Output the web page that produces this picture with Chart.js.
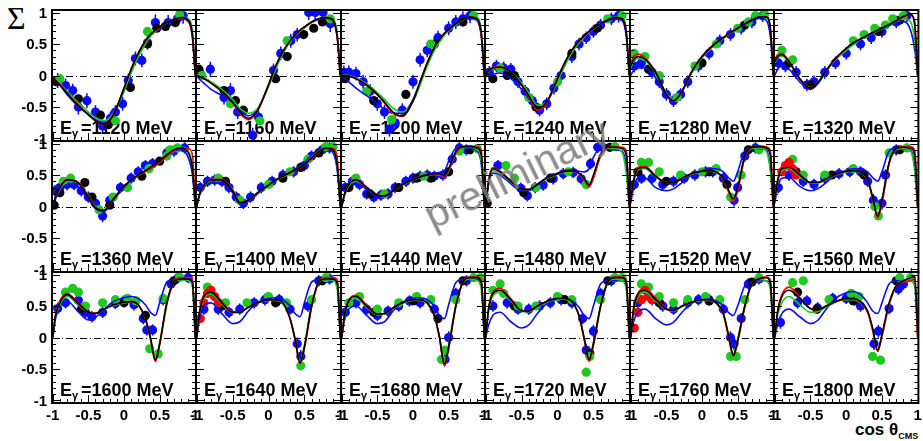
<!DOCTYPE html>
<html>
<head>
<meta charset="utf-8">
<script src="https://cdn.jsdelivr.net/npm/chart.js@4.4.1/dist/chart.umd.min.js"></script>
<style>
  body { margin: 0; background: #fff; width: 923px; height: 441px; overflow: hidden; position: relative; }
  canvas { position: absolute; }
  #sigma { position: absolute; left: 7px; top: 2px; font: 32px "Liberation Serif", serif; line-height: 1; }
  #xtitle { position: absolute; left: 855px; top: 421px; font: bold 17px "Liberation Sans", Arial, sans-serif; line-height: 1; white-space: nowrap; }
  #xtitle sub { font-size: 9px; vertical-align: -4px; }
  #prelim { position: absolute; left: 517px; top: 174px; transform: translate(-50%, -50%) rotate(-26deg);
            font: 41px "Liberation Sans", Arial, sans-serif; color: rgba(120,120,120,0.85); white-space: nowrap; z-index: 5; }
</style>
</head>
<body>
<div id="sigma">Σ</div>
<div id="xtitle">cos θ<sub>CMS</sub></div>
<div id="prelim">preliminary</div>
<script>
// photon energies, one panel each
const energies = [1120, 1160, 1200, 1240, 1280, 1320, 1360, 1400, 1440, 1480, 1520, 1560, 1600, 1640, 1680, 1720, 1760, 1800];

// cos theta grid where the model curves are read
const cosGrid = [-1, -0.96, -0.9, -0.8, -0.65, -0.5, -0.4, -0.28, -0.15, 0, 0.1, 0.2, 0.3, 0.37, 0.44, 0.5, 0.6, 0.7, 0.8, 0.9, 0.96, 1];

// model curves (one row per panel)
const modelBlack = [
  [-0.03,-0.08,-0.15,-0.28,-0.47,-0.62,-0.72,-0.78,-0.62,-0.2,0.1,0.35,0.55,0.65,0.72,0.77,0.84,0.89,0.92,0.88,0.65,0],
  [0,-0.02,-0.05,-0.12,-0.25,-0.42,-0.58,-0.68,-0.55,-0.15,0.15,0.38,0.55,0.64,0.72,0.77,0.85,0.9,0.92,0.88,0.6,0],
  [0,0,-0.01,-0.05,-0.15,-0.3,-0.42,-0.58,-0.64,-0.4,-0.1,0.2,0.45,0.57,0.67,0.73,0.82,0.89,0.93,0.9,0.65,0],
  [0,0.08,0.12,0.13,0.05,-0.15,-0.32,-0.52,-0.42,-0.05,0.2,0.4,0.55,0.63,0.7,0.75,0.82,0.88,0.92,0.9,0.65,0],
  [0.15,0.25,0.3,0.26,0.05,-0.3,-0.4,-0.25,0.05,0.3,0.42,0.52,0.6,0.66,0.71,0.75,0.82,0.88,0.93,0.93,0.72,0],
  [0.22,0.3,0.33,0.22,-0.05,-0.2,-0.12,0.08,0.27,0.43,0.52,0.58,0.64,0.68,0.72,0.75,0.81,0.87,0.94,0.97,0.78,0],
  [0,0.15,0.3,0.42,0.38,0.15,-0.02,-0.06,0.12,0.32,0.42,0.5,0.57,0.62,0.67,0.72,0.82,0.9,0.93,0.86,0.6,0],
  [0,0.2,0.33,0.42,0.42,0.25,0.06,0.1,0.22,0.34,0.42,0.48,0.54,0.58,0.62,0.67,0.77,0.87,0.93,0.9,0.62,0],
  [0,0.2,0.35,0.42,0.3,0.18,0.17,0.25,0.35,0.43,0.47,0.5,0.52,0.52,0.49,0.6,0.87,0.95,0.95,0.93,0.8,0],
  [0,0.4,0.6,0.55,0.4,0.28,0.27,0.35,0.45,0.52,0.56,0.57,0.53,0.45,0.34,0.5,0.83,0.94,0.94,0.92,0.8,0],
  [0.1,0.4,0.6,0.62,0.48,0.38,0.38,0.45,0.52,0.56,0.57,0.55,0.45,0.27,0.12,0.3,0.8,0.94,0.95,0.93,0.8,0],
  [0.1,0.4,0.6,0.62,0.5,0.38,0.38,0.44,0.51,0.56,0.57,0.55,0.43,0.15,-0.15,0.1,0.7,0.92,0.94,0.93,0.8,0],
  [0,0.35,0.55,0.68,0.55,0.4,0.38,0.45,0.52,0.56,0.57,0.52,0.3,0,-0.36,-0.1,0.55,0.88,0.93,0.93,0.88,0],
  [0,0.4,0.65,0.72,0.55,0.4,0.4,0.48,0.55,0.6,0.6,0.55,0.3,-0.02,-0.4,-0.15,0.5,0.88,0.93,0.93,0.85,0],
  [0,0.35,0.58,0.65,0.5,0.37,0.38,0.47,0.55,0.6,0.6,0.55,0.35,0.02,-0.42,-0.15,0.5,0.88,0.95,0.95,0.85,0],
  [0,0.45,0.7,0.75,0.6,0.42,0.42,0.5,0.57,0.62,0.62,0.57,0.35,0,-0.35,-0.1,0.5,0.88,0.95,0.95,0.85,0],
  [0,0.45,0.68,0.75,0.6,0.45,0.43,0.5,0.56,0.6,0.6,0.55,0.38,0.05,-0.28,-0.05,0.5,0.85,0.93,0.95,0.85,0],
  [0,0.4,0.65,0.75,0.62,0.46,0.44,0.5,0.57,0.62,0.62,0.57,0.42,0.15,-0.2,0.05,0.55,0.82,0.9,0.95,0.97,0.1]
];
const modelRed = [
  [-0.03,-0.08,-0.14,-0.27,-0.46,-0.62,-0.72,-0.79,-0.63,-0.2,0.1,0.36,0.55,0.65,0.72,0.77,0.84,0.89,0.91,0.87,0.62,0],
  [0,-0.02,-0.05,-0.12,-0.26,-0.43,-0.6,-0.7,-0.56,-0.15,0.15,0.38,0.55,0.64,0.72,0.77,0.85,0.9,0.92,0.87,0.58,0],
  [0,0,-0.01,-0.05,-0.16,-0.31,-0.44,-0.6,-0.65,-0.4,-0.1,0.2,0.45,0.57,0.67,0.73,0.82,0.89,0.93,0.89,0.62,0],
  [0,0.09,0.13,0.14,0.05,-0.16,-0.34,-0.55,-0.44,-0.05,0.2,0.4,0.55,0.63,0.7,0.75,0.82,0.88,0.92,0.9,0.68,0],
  [0.2,0.3,0.34,0.28,0.05,-0.3,-0.41,-0.26,0.05,0.3,0.42,0.52,0.6,0.66,0.71,0.75,0.82,0.88,0.93,0.93,0.75,0],
  [0.25,0.33,0.35,0.23,-0.05,-0.2,-0.12,0.08,0.27,0.43,0.52,0.58,0.64,0.68,0.72,0.75,0.81,0.87,0.93,0.96,0.85,0],
  [0,0.15,0.3,0.43,0.39,0.16,-0.01,-0.06,0.12,0.32,0.42,0.5,0.56,0.6,0.65,0.7,0.8,0.88,0.93,0.92,0.82,0],
  [0,0.2,0.34,0.43,0.43,0.26,0.07,0.1,0.22,0.34,0.42,0.48,0.53,0.57,0.61,0.66,0.76,0.86,0.93,0.92,0.75,0],
  [0,0.2,0.36,0.43,0.31,0.18,0.17,0.25,0.35,0.43,0.47,0.5,0.52,0.51,0.47,0.57,0.85,0.95,0.96,0.95,0.88,0],
  [0,0.42,0.62,0.56,0.41,0.28,0.27,0.35,0.45,0.52,0.56,0.57,0.52,0.43,0.31,0.45,0.8,0.94,0.95,0.94,0.88,0],
  [0.1,0.42,0.62,0.64,0.49,0.38,0.38,0.45,0.52,0.56,0.57,0.55,0.44,0.24,0.08,0.25,0.78,0.94,0.96,0.95,0.88,0],
  [0.1,0.42,0.63,0.65,0.51,0.38,0.38,0.44,0.51,0.56,0.57,0.55,0.42,0.12,-0.18,0.05,0.68,0.92,0.95,0.95,0.88,0],
  [0,0.37,0.58,0.7,0.56,0.41,0.39,0.45,0.52,0.56,0.57,0.52,0.3,-0.02,-0.38,-0.12,0.52,0.88,0.95,0.95,0.95,0],
  [0,0.42,0.68,0.75,0.57,0.41,0.41,0.48,0.55,0.6,0.6,0.55,0.3,-0.04,-0.42,-0.18,0.48,0.88,0.95,0.95,0.92,0],
  [0,0.37,0.6,0.67,0.51,0.37,0.38,0.47,0.55,0.6,0.6,0.55,0.34,0,-0.45,-0.18,0.48,0.88,0.96,0.96,0.92,0],
  [0,0.47,0.72,0.78,0.62,0.43,0.42,0.5,0.57,0.62,0.62,0.57,0.34,-0.02,-0.38,-0.13,0.48,0.88,0.96,0.96,0.92,0],
  [0,0.47,0.7,0.78,0.62,0.46,0.43,0.5,0.56,0.6,0.6,0.55,0.37,0.02,-0.3,-0.08,0.48,0.85,0.94,0.96,0.92,0],
  [0,0.42,0.68,0.8,0.64,0.46,0.44,0.5,0.57,0.61,0.61,0.56,0.4,0.12,-0.22,0.02,0.52,0.82,0.88,0.9,0.93,0]
];
const modelGreen = [
  [-0.03,-0.07,-0.13,-0.25,-0.42,-0.58,-0.67,-0.72,-0.6,-0.25,0.05,0.3,0.5,0.62,0.7,0.76,0.84,0.9,0.93,0.9,0.7,0],
  [0,-0.01,-0.03,-0.1,-0.22,-0.38,-0.52,-0.6,-0.52,-0.18,0.1,0.35,0.53,0.63,0.7,0.76,0.85,0.9,0.93,0.9,0.65,0],
  [0,0.01,0,-0.04,-0.13,-0.27,-0.38,-0.52,-0.58,-0.42,-0.15,0.15,0.4,0.53,0.64,0.71,0.8,0.88,0.93,0.92,0.7,0],
  [0,0.07,0.11,0.12,0.05,-0.12,-0.28,-0.47,-0.42,-0.1,0.15,0.36,0.52,0.61,0.69,0.74,0.82,0.88,0.93,0.92,0.7,0],
  [0.12,0.22,0.27,0.24,0.04,-0.28,-0.38,-0.25,0.03,0.28,0.4,0.5,0.59,0.65,0.7,0.75,0.82,0.89,0.94,0.94,0.75,0],
  [0.2,0.28,0.31,0.21,-0.05,-0.19,-0.12,0.07,0.25,0.4,0.5,0.57,0.63,0.67,0.71,0.74,0.8,0.86,0.9,0.85,0.55,0],
  [0,0.14,0.28,0.4,0.38,0.17,0,-0.05,0.12,0.31,0.41,0.49,0.56,0.61,0.66,0.71,0.81,0.9,0.94,0.88,0.62,0],
  [0,0.19,0.32,0.41,0.42,0.27,0.08,0.1,0.21,0.33,0.41,0.47,0.53,0.58,0.62,0.67,0.78,0.88,0.94,0.9,0.6,0],
  [0,0.19,0.33,0.4,0.3,0.19,0.18,0.25,0.34,0.42,0.46,0.49,0.51,0.5,0.47,0.56,0.84,0.93,0.94,0.9,0.7,0],
  [0,0.38,0.57,0.53,0.39,0.28,0.27,0.35,0.44,0.51,0.55,0.56,0.52,0.44,0.32,0.45,0.8,0.92,0.92,0.86,0.5,0],
  [0.1,0.38,0.58,0.6,0.47,0.38,0.38,0.45,0.51,0.55,0.56,0.54,0.44,0.26,0.1,0.27,0.78,0.92,0.93,0.88,0.55,0],
  [0.1,0.38,0.57,0.6,0.48,0.37,0.37,0.43,0.5,0.55,0.56,0.54,0.42,0.14,-0.16,0.08,0.68,0.9,0.92,0.88,0.55,0],
  [0,0.33,0.52,0.65,0.53,0.4,0.38,0.44,0.51,0.55,0.56,0.51,0.3,0,-0.34,-0.08,0.55,0.88,0.92,0.9,0.8,0],
  [0,0.38,0.62,0.69,0.53,0.39,0.4,0.48,0.55,0.59,0.59,0.54,0.3,-0.02,-0.38,-0.12,0.5,0.87,0.92,0.9,0.75,0],
  [0,0.33,0.55,0.62,0.48,0.36,0.37,0.46,0.54,0.59,0.59,0.54,0.34,0.02,-0.4,-0.12,0.5,0.87,0.93,0.9,0.75,0],
  [0,0.42,0.66,0.72,0.58,0.41,0.41,0.49,0.56,0.61,0.61,0.56,0.34,0,-0.33,-0.08,0.5,0.87,0.93,0.9,0.75,0],
  [0,0.42,0.64,0.72,0.58,0.44,0.42,0.49,0.55,0.59,0.59,0.54,0.37,0.05,-0.26,-0.03,0.5,0.84,0.92,0.9,0.75,0],
  [0,0.35,0.55,0.65,0.52,0.4,0.41,0.48,0.56,0.6,0.6,0.55,0.4,0.12,-0.22,0.02,0.52,0.82,0.9,0.9,0.8,0]
];
const modelBlue = [
  [-0.03,-0.08,-0.15,-0.3,-0.48,-0.62,-0.7,-0.75,-0.62,-0.25,0.05,0.32,0.52,0.63,0.7,0.75,0.83,0.88,0.9,0.86,0.6,0],
  [0,-0.06,-0.12,-0.22,-0.32,-0.43,-0.55,-0.64,-0.53,-0.15,0.13,0.36,0.54,0.63,0.71,0.76,0.84,0.89,0.91,0.86,0.58,0],
  [0,-0.04,-0.1,-0.2,-0.32,-0.45,-0.53,-0.6,-0.6,-0.38,-0.1,0.18,0.43,0.56,0.66,0.72,0.81,0.88,0.91,0.87,0.6,0],
  [0,0,0.02,0.04,-0.05,-0.22,-0.37,-0.52,-0.42,-0.06,0.18,0.38,0.54,0.62,0.69,0.74,0.81,0.87,0.9,0.87,0.6,0],
  [0,0.08,0.12,0.12,-0.04,-0.33,-0.4,-0.25,0.04,0.3,0.42,0.52,0.6,0.66,0.71,0.75,0.81,0.87,0.91,0.88,0.6,0],
  [0,0.1,0.15,0.1,-0.1,-0.22,-0.14,0.06,0.25,0.41,0.5,0.57,0.63,0.67,0.71,0.74,0.79,0.84,0.86,0.72,0.4,0],
  [0,0.12,0.25,0.35,0.32,0.12,-0.03,-0.08,0.1,0.3,0.41,0.49,0.56,0.61,0.66,0.71,0.81,0.88,0.9,0.78,0.5,0],
  [0,0.18,0.3,0.38,0.38,0.22,0.04,0.08,0.2,0.33,0.42,0.48,0.54,0.59,0.64,0.7,0.81,0.89,0.92,0.85,0.55,0],
  [0,0.18,0.32,0.38,0.27,0.16,0.16,0.25,0.36,0.44,0.48,0.51,0.53,0.54,0.56,0.72,0.92,0.94,0.92,0.88,0.65,0],
  [0,0.35,0.53,0.5,0.36,0.25,0.25,0.35,0.46,0.53,0.57,0.58,0.56,0.55,0.6,0.78,0.93,0.93,0.9,0.88,0.62,0],
  [0.05,0.3,0.45,0.45,0.3,0.25,0.28,0.38,0.5,0.57,0.6,0.6,0.55,0.46,0.4,0.55,0.88,0.93,0.92,0.9,0.6,0],
  [0.05,0.3,0.45,0.46,0.32,0.25,0.28,0.38,0.5,0.57,0.6,0.6,0.55,0.46,0.4,0.55,0.88,0.93,0.92,0.9,0.6,0],
  [0,0.3,0.5,0.58,0.42,0.28,0.32,0.45,0.57,0.63,0.65,0.62,0.52,0.4,0.35,0.55,0.88,0.92,0.92,0.92,0.85,0],
  [0,0.3,0.5,0.55,0.38,0.22,0.25,0.42,0.56,0.62,0.63,0.6,0.5,0.38,0.33,0.55,0.88,0.92,0.92,0.92,0.85,0],
  [0,0.28,0.45,0.5,0.35,0.22,0.25,0.42,0.56,0.62,0.63,0.6,0.5,0.35,0.3,0.52,0.87,0.92,0.92,0.92,0.85,0],
  [0,0.2,0.35,0.4,0.25,0.15,0.2,0.38,0.54,0.61,0.62,0.58,0.48,0.35,0.3,0.5,0.85,0.9,0.9,0.9,0.8,0],
  [0,0.25,0.4,0.45,0.3,0.2,0.24,0.4,0.54,0.6,0.61,0.58,0.5,0.4,0.35,0.5,0.82,0.88,0.9,0.9,0.8,0],
  [0,0.2,0.38,0.45,0.33,0.22,0.27,0.45,0.62,0.71,0.73,0.68,0.55,0.42,0.38,0.55,0.85,0.9,0.9,0.9,0.85,0]
];

// measured points [cos, sigma, error] - blue set has visible error bars
const dataBlue = [
  [[-0.93,-0.08,0.12],[-0.82,-0.16,0.11],[-0.72,-0.24,0.11],[-0.64,-0.5,0.12],[-0.52,-0.4,0.12],[-0.4,-0.58,0.11],[-0.3,-0.8,0.1],[-0.19,-0.68,0.11],[-0.12,-0.58,0.11],[-0.02,-0.45,0.11],[0.06,-0.08,0.11],[0.16,0.27,0.11],[0.25,0.24,0.11],[0.33,0.52,0.11],[0.44,0.84,0.13],[0.62,0.84,0.12],[0.75,0.9,0.12],[0.83,0.95,0.13]],
  [[-0.95,0.03,0.11],[-0.81,0.1,0.12],[-0.62,-0.35,0.11],[-0.53,-0.24,0.12],[-0.43,-0.58,0.11],[-0.22,-0.95,0.12],[-0.14,-0.66,0.11],[0.07,0.08,0.11],[0.17,0.35,0.11],[0.31,0.55,0.11],[0.4,0.65,0.11],[0.56,1.0,0.12],[0.65,1.0,0.12],[0.76,1.0,0.12],[0.86,0.82,0.13]],
  [[-0.97,0.05,0.11],[-0.9,0.05,0.11],[-0.8,0.03,0.11],[-0.7,-0.1,0.11],[-0.6,-0.25,0.11],[-0.5,-0.45,0.11],[-0.4,-0.58,0.11],[-0.33,-0.85,0.12],[-0.25,-0.75,0.12],[-0.15,-0.55,0.11],[0,-0.1,0.11],[0.1,0.25,0.11],[0.2,0.4,0.11],[0.35,0.6,0.11],[0.5,0.75,0.11],[0.6,0.85,0.11],[0.7,0.9,0.12],[0.8,0.95,0.12]],
  [[-0.95,0.05,0.1],[-0.85,0.15,0.1],[-0.75,0.12,0.1],[-0.65,0.1,0.1],[-0.55,-0.1,0.1],[-0.45,-0.25,0.1],[-0.35,-0.4,0.1],[-0.25,-0.55,0.1],[-0.15,-0.45,0.1],[-0.05,-0.2,0.1],[0.05,0,0.1],[0.2,0.3,0.1],[0.3,0.5,0.1],[0.4,0.6,0.1],[0.5,0.7,0.1],[0.6,0.8,0.1],[0.75,0.9,0.1],[0.85,0.95,0.11]],
  [[-0.95,0.15,0.1],[-0.85,0.2,0.1],[-0.7,0.05,0.1],[-0.6,-0.1,0.1],[-0.5,-0.3,0.1],[-0.4,-0.4,0.1],[-0.3,-0.3,0.1],[-0.2,-0.1,0.1],[-0.05,0.15,0.1],[0.1,0.35,0.1],[0.25,0.55,0.1],[0.4,0.65,0.1],[0.55,0.75,0.1],[0.7,0.85,0.1],[0.85,0.95,0.1]],
  [[-0.95,0.2,0.1],[-0.85,0.15,0.1],[-0.7,0.05,0.1],[-0.55,-0.15,0.1],[-0.45,-0.1,0.1],[-0.3,0.05,0.1],[-0.15,0.2,0.1],[0,0.35,0.1],[0.2,0.5,0.1],[0.35,0.6,0.1],[0.5,0.7,0.1],[0.7,0.85,0.1],[0.85,0.95,0.1]],
  [[-0.97,0.25,0.09],[-0.9,0.3,0.09],[-0.8,0.35,0.09],[-0.7,0.35,0.09],[-0.6,0.25,0.09],[-0.5,0.15,0.09],[-0.4,0.05,0.09],[-0.3,-0.15,0.1],[-0.2,0.1,0.09],[-0.05,0.3,0.09],[0.1,0.45,0.09],[0.2,0.55,0.09],[0.3,0.65,0.09],[0.4,0.68,0.09],[0.6,0.85,0.09],[0.7,0.88,0.09],[0.85,0.93,0.09]],
  [[-0.95,0.3,0.09],[-0.85,0.4,0.09],[-0.75,0.42,0.09],[-0.65,0.4,0.09],[-0.55,0.3,0.09],[-0.45,0.15,0.09],[-0.35,0.05,0.09],[-0.25,0.15,0.09],[-0.1,0.3,0.09],[0.05,0.4,0.09],[0.2,0.5,0.09],[0.35,0.55,0.09],[0.5,0.65,0.09],[0.6,0.8,0.09],[0.75,0.9,0.09],[0.85,0.93,0.09]],
  [[-0.95,0.3,0.09],[-0.85,0.4,0.09],[-0.75,0.35,0.09],[-0.65,0.2,0.09],[-0.55,0.15,0.09],[-0.45,0.18,0.09],[-0.35,0.2,0.09],[-0.25,0.3,0.09],[-0.1,0.4,0.09],[0,0.45,0.09],[0.1,0.48,0.09],[0.2,0.5,0.09],[0.3,0.48,0.09],[0.42,0.5,0.09],[0.55,0.75,0.09],[0.65,0.93,0.09],[0.75,0.9,0.09]],
  [[-0.83,0.65,0.09],[-0.51,0.29,0.09],[-0.42,0.17,0.09],[-0.31,0.3,0.09],[-0.2,0.34,0.09],[-0.06,0.44,0.09],[0.08,0.52,0.09],[0.22,0.54,0.09],[0.33,0.44,0.09],[0.46,0.68,0.09],[0.56,0.94,0.09],[0.63,0.94,0.09]],
  [[-0.95,0.35,0.09],[-0.85,0.45,0.09],[-0.7,0.45,0.09],[-0.55,0.35,0.09],[-0.4,0.4,0.09],[-0.25,0.45,0.09],[-0.1,0.5,0.09],[0.05,0.55,0.09],[0.15,0.55,0.09],[0.3,0.45,0.09],[0.45,0.1,0.1],[0.5,0.3,0.09],[0.6,0.8,0.09],[0.75,0.93,0.09]],
  [[-0.95,0.3,0.09],[-0.8,0.5,0.09],[-0.6,0.4,0.09],[-0.45,0.35,0.09],[-0.3,0.45,0.09],[-0.1,0.52,0.09],[0.05,0.55,0.09],[0.2,0.55,0.09],[0.3,0.4,0.09],[0.38,0.1,0.1],[0.5,0.05,0.1],[0.55,0.5,0.09],[0.7,0.9,0.09]],
  [[-0.93,0.46,0.09],[-0.82,0.55,0.09],[-0.64,0.59,0.09],[-0.54,0.4,0.09],[-0.45,0.33,0.09],[-0.3,0.4,0.09],[-0.12,0.54,0.09],[0,0.58,0.09],[0.14,0.52,0.09],[0.27,0.3,0.09],[0.32,0.12,0.09],[0.4,0.12,0.09],[0.55,0.6,0.09],[0.66,0.85,0.09],[0.76,0.95,0.09],[0.9,0.95,0.09]],
  [[-0.9,0.45,0.09],[-0.7,0.45,0.09],[-0.55,0.4,0.09],[-0.4,0.45,0.09],[-0.2,0.55,0.09],[-0.05,0.6,0.09],[0.15,0.6,0.09],[0.3,0.45,0.09],[0.4,-0.1,0.1],[0.45,-0.3,0.1],[0.55,0.5,0.09],[0.7,0.9,0.09],[0.85,0.93,0.09]],
  [[-0.95,0.4,0.09],[-0.8,0.55,0.09],[-0.65,0.45,0.09],[-0.5,0.35,0.09],[-0.35,0.42,0.09],[-0.2,0.5,0.09],[-0.05,0.58,0.09],[0.1,0.55,0.09],[0.3,0.45,0.09],[0.45,-0.35,0.1],[0.5,0,0.1],[0.6,0.7,0.09],[0.75,0.9,0.09]],
  [[-0.9,0.5,0.09],[-0.7,0.55,0.09],[-0.55,0.45,0.09],[-0.4,0.45,0.09],[-0.25,0.5,0.09],[-0.1,0.55,0.09],[0.05,0.6,0.09],[0.2,0.55,0.09],[0.35,0.3,0.09],[0.4,-0.2,0.1],[0.5,0.1,0.1],[0.6,0.7,0.09],[0.75,0.9,0.09]],
  [[-0.9,0.55,0.09],[-0.7,0.6,0.09],[-0.55,0.5,0.09],[-0.4,0.45,0.09],[-0.2,0.55,0.09],[-0.05,0.6,0.09],[0.1,0.6,0.09],[0.3,0.45,0.09],[0.4,0,0.1],[0.45,-0.1,0.1],[0.55,0.3,0.09],[0.65,0.85,0.09],[0.8,0.93,0.09]],
  [[-0.92,0.24,0.1],[-0.68,0.55,0.09],[-0.55,0.58,0.09],[-0.4,0.47,0.09],[-0.19,0.62,0.09],[0,0.62,0.09],[0.12,0.6,0.09],[0.2,0.5,0.09],[0.39,-0.1,0.1],[0.45,0.1,0.1],[0.6,0.46,0.09],[0.73,0.77,0.09],[0.8,0.85,0.09]]
];
const dataBlack = [
  [[-0.95,-0.1],[-0.64,-0.37],[-0.33,-0.63],[-0.22,-0.78],[0.09,-0.19],[0.33,0.5],[0.46,0.75],[0.58,0.78],[0.72,0.84]],
  [[-0.97,0.1],[-0.62,-0.24],[-0.46,-0.4],[-0.35,-0.55],[0.1,-0.05],[0.26,0.3],[0.49,0.65],[0.63,0.75],[0.75,0.85]],
  [[-0.95,-0.05],[-0.55,-0.4],[-0.1,-0.3],[0.3,0.5],[0.7,0.85]],
  [[-0.9,-0.05],[-0.7,0],[-0.6,0],[-0.3,-0.5],[0.2,0.35],[0.55,0.75]],
  [[-0.75,0.1],[0,0.2],[0.6,0.8]],
  [[-0.8,0.2],[-0.5,-0.15],[0.45,0.7],[0.75,0.88]],
  [[-0.98,0.02],[-0.9,0.22],[-0.55,0.38],[-0.45,0.15],[-0.2,0.02],[0.25,0.48],[0.5,0.72]],
  [[-0.6,0.4],[0.2,0.45],[0.45,0.62],[0.7,0.85]],
  [[-0.9,0.3],[-0.6,0.2],[-0.2,0.3],[0.05,0.45],[0.25,0.45],[0.5,0.55],[0.8,0.9]],
  [[-0.98,0.05],[-0.47,0.22],[-0.1,0.45],[0.73,0.94]],
  [[-0.9,0.55],[-0.5,0.4],[0.1,0.55],[0.35,0.35],[0.65,0.9]],
  [[-0.7,0.55],[-0.2,0.5],[0.25,0.5],[0.75,0.9]],
  [[-0.6,0.45],[0,0.55],[0.3,0.35],[0.7,0.9]],
  [[-0.65,0.5],[0.1,0.55],[0.75,0.9]],
  [[-0.55,0.4],[0,0.58],[0.35,0.3],[0.7,0.9]],
  [[-0.6,0.5],[0.1,0.6],[0.45,-0.25],[0.7,0.9]],
  [[-0.6,0.55],[0.1,0.58],[0.7,0.88]],
  [[-0.68,0.72],[-0.41,0.45],[0.1,0.58],[0.7,0.9]]
];
const dataGreen = [
  [[-0.9,-0.05],[-0.12,-0.72],[0.33,0.7],[0.78,0.97]],
  [[-0.93,0],[-0.53,-0.45],[-0.12,-0.72],[0.26,0.55],[0.86,0.9]],
  [[-0.65,-0.25],[-0.3,-0.7],[0.25,0.5],[0.85,0.95]],
  [[-0.8,0.12],[-0.4,-0.35],[0,-0.1],[0.7,0.9],[0.9,0.95]],
  [[-0.95,0.35],[-0.8,0.3],[-0.6,0],[-0.35,-0.35],[-0.1,0.15],[0.2,0.5],[0.5,0.75],[0.65,0.85],[0.75,0.95],[0.88,0.97]],
  [[-0.9,0.4],[-0.75,0.25],[0.1,0.55],[0.25,0.65],[0.4,0.75],[0.55,0.8],[0.65,0.9],[0.8,0.95]],
  [[-0.85,0.4],[-0.75,0.45],[-0.35,-0.05],[-0.15,0.15],[0.05,0.3],[0.35,0.6],[0.6,0.8],[0.65,0.9],[0.75,0.93]],
  [[-0.7,0.45],[-0.4,0.1],[0,0.35],[0.3,0.55],[0.55,0.75],[0.8,0.95],[0.9,0.95]],
  [[-0.8,0.45],[-0.4,0.2],[0.15,0.48],[0.65,0.88],[0.9,0.92]],
  [[-0.72,0.65],[-0.6,0.45],[-0.3,0.3],[0.15,0.55],[0.4,0.35],[0.8,0.95]],
  [[-0.85,0.7],[-0.75,0.7],[-0.6,0.55],[-0.3,0.5],[0,0.55],[0.2,0.6],[0.4,0.15],[0.55,0.5],[0.8,0.9]],
  [[-0.75,0.75],[-0.6,0.5],[-0.3,0.5],[0.1,0.6],[0.4,0],[0.45,-0.15],[0.6,0.85],[0.85,0.93]],
  [[-0.82,0.72],[-0.72,0.78],[-0.64,0.72],[-0.54,0.5],[-0.3,0.55],[-0.12,0.6],[0.05,0.62],[0.17,0.58],[0.36,-0.18],[0.48,-0.26],[0.55,0.62],[0.78,0.96]],
  [[-0.85,0.8],[-0.6,0.55],[-0.3,0.55],[0,0.65],[0.25,0.55],[0.45,-0.45],[0.6,0.6],[0.8,0.95]],
  [[-0.9,0.55],[-0.75,0.65],[-0.5,0.45],[-0.2,0.55],[0.05,0.65],[0.25,0.6],[0.4,-0.35],[0.45,-0.2],[0.6,0.6],[0.85,0.95],[0.95,0.95]],
  [[-0.9,0.75],[-0.8,0.85],[-0.75,0.7],[-0.55,0.5],[-0.3,0.5],[0,0.65],[0.2,0.6],[0.4,-0.55],[0.45,-0.3],[0.6,0.6],[0.8,0.95],[0.9,0.95]],
  [[-0.85,0.85],[-0.75,0.8],[-0.6,0.65],[-0.4,0.55],[-0.2,0.6],[0.05,0.65],[0.25,0.6],[0.4,-0.3],[0.48,-0.3],[0.6,0.6],[0.8,0.95]],
  [[-0.75,0.87],[-0.6,0.9],[-0.24,0.6],[0.07,0.7],[0.18,0.65],[0.37,-0.3],[0.48,-0.36],[0.75,0.95],[0.9,0.95]]
];
const dataRed = [
  [], [], [], [], [], [], [], [], [], [], [],
  [[-0.9,0.55],[-0.85,0.65],[-0.8,0.7],[-0.75,0.6],[-0.7,0.5]],
  [],
  [[-0.95,0.3],[-0.9,0.55],[-0.85,0.7],[-0.8,0.75],[-0.75,0.65],[-0.7,0.55]],
  [], [],
  [[-0.95,0.15],[-0.9,0.4],[-0.85,0.6],[-0.8,0.75],[-0.75,0.65],[-0.7,0.6]],
  []
];

const yTickLabels = ['1', '0.5', '0', '-0.5', '-1'];
const xTickLabels = ['-1', '-0.5', '0', '0.5', '1'];

// panel edges in page pixels
const colEdges = [52, 196, 341, 485, 630, 774, 919];
const rowEdges = [10, 141, 272, 403];

const FONT = '"Liberation Sans", Arial, sans-serif';
const BLUE = '#0a0aff', GREEN = '#1ec81e', RED = '#ff0000', BLACK = '#000000';

// ROOT-like frame, inward ticks, zero line, labels, error bars
const rootFrame = {
  id: 'rootFrame',
  beforeDatasetsDraw(chart, args, opts) {
    const { ctx, chartArea: a, scales: { x, y } } = chart;
    ctx.save();
    ctx.beginPath();
    ctx.rect(a.left, a.top, a.right - a.left, a.bottom - a.top);
    ctx.clip();

    // dash-dot zero line
    const y0 = Math.round(y.getPixelForValue(0)) + 0.5;
    ctx.strokeStyle = '#000';
    ctx.lineWidth = 1;
    ctx.setLineDash([7, 3, 1, 3]);
    ctx.beginPath();
    ctx.moveTo(a.left, y0);
    ctx.lineTo(a.right, y0);
    ctx.stroke();
    ctx.setLineDash([]);

    // energy label
    ctx.fillStyle = '#000';
    ctx.textBaseline = 'alphabetic';
    ctx.textAlign = 'left';
    ctx.font = 'bold 18px ' + FONT;
    ctx.fillText('E', a.left + 8, a.bottom - 7);
    ctx.font = 'bold 11px ' + FONT;
    ctx.fillText('γ', a.left + 20, a.bottom - 4);
    ctx.font = 'bold 18px ' + FONT;
    ctx.fillText('=' + opts.energy + ' MeV', a.left + 29, a.bottom - 7);

    // error bars
    chart.data.datasets.forEach(ds => {
      if (!ds.errorBars) return;
      ctx.strokeStyle = ds.pointBackgroundColor;
      ctx.lineWidth = 1.5;
      ds.data.forEach(p => {
        const px = x.getPixelForValue(p.x);
        ctx.beginPath();
        ctx.moveTo(px, y.getPixelForValue(p.y - p.e));
        ctx.lineTo(px, y.getPixelForValue(p.y + p.e));
        ctx.stroke();
      });
    });
    ctx.restore();
  },
  afterDraw(chart, args, opts) {
    const { ctx, chartArea: a, scales: { x, y } } = chart;
    ctx.save();
    ctx.strokeStyle = '#000';
    ctx.lineWidth = 1;
    ctx.beginPath();
    for (let i = -10; i <= 10; i++) {
      const len = i % 5 === 0 ? 8 : 4;
      const py = Math.round(y.getPixelForValue(i / 10)) + 0.5;
      ctx.moveTo(a.left, py); ctx.lineTo(a.left + len, py);
      ctx.moveTo(a.right, py); ctx.lineTo(a.right - len, py);
      const px = Math.round(x.getPixelForValue(i / 10)) + 0.5;
      ctx.moveTo(px, a.bottom); ctx.lineTo(px, a.bottom - len);
    }
    ctx.stroke();

    ctx.lineWidth = 2;
    ctx.strokeRect(a.left, a.top, a.right - a.left, a.bottom - a.top);

    ctx.fillStyle = '#000';
    ctx.font = 'bold 15px ' + FONT;
    if (opts.showY) {
      ctx.textAlign = 'right';
      ctx.textBaseline = 'middle';
      yTickLabels.forEach(t => ctx.fillText(t, a.left - 5, y.getPixelForValue(parseFloat(t)) + 1));
    }
    if (opts.showX) {
      ctx.textAlign = 'center';
      ctx.textBaseline = 'top';
      xTickLabels.forEach(t => ctx.fillText(t, x.getPixelForValue(parseFloat(t)), a.bottom + 5));
    }
    ctx.restore();
  }
};

function curve(values, color) {
  return {
    data: cosGrid.map((c, i) => ({ x: c, y: values[i] })),
    borderColor: color,
    borderWidth: 1.6,
    pointRadius: 0,
    fill: false,
    cubicInterpolationMode: 'monotone'
  };
}

function points(list, color, withErrors) {
  return {
    data: list.map(p => ({ x: p[0], y: p[1], e: p[2] || 0 })),
    showLine: false,
    pointRadius: 4.6,
    pointBackgroundColor: color,
    pointBorderColor: color,
    pointBorderWidth: 0,
    errorBars: withErrors
  };
}

energies.forEach((energy, k) => {
  const c = k % 6, r = Math.floor(k / 6);
  const left = c === 0 ? 0 : colEdges[c] - 6;
  const right = c === 5 ? 923 : colEdges[c + 1] + 6;
  const top = rowEdges[r] - 6;
  const bottom = r === 2 ? 441 : rowEdges[r + 1] + 6;

  const canvas = document.createElement('canvas');
  canvas.width = right - left;
  canvas.height = bottom - top;
  canvas.style.left = left + 'px';
  canvas.style.top = top + 'px';
  document.body.appendChild(canvas);

  new Chart(canvas, {
    type: 'line',
    data: {
      datasets: [
        curve(modelBlack[k], BLACK),
        curve(modelRed[k], RED),
        curve(modelGreen[k], GREEN),
        curve(modelBlue[k], BLUE),
        points(dataRed[k], RED, false),
        points(dataGreen[k], GREEN, false),
        points(dataBlack[k], BLACK, false),
        points(dataBlue[k], BLUE, true)
      ]
    },
    options: {
      responsive: false,
      animation: false,
      events: [],
      layout: {
        padding: {
          left: colEdges[c] - left,
          right: right - colEdges[c + 1],
          top: rowEdges[r] - top,
          bottom: bottom - rowEdges[r + 1]
        }
      },
      plugins: {
        legend: { display: false },
        tooltip: { enabled: false },
        rootFrame: { energy: energy, showY: c === 0, showX: r === 2 }
      },
      scales: {
        x: { type: 'linear', min: -1.01, max: 1.01, display: false },
        y: { type: 'linear', min: -1.04, max: 1.04, display: false }
      }
    },
    plugins: [rootFrame]
  });
});
</script>
</body>
</html>
